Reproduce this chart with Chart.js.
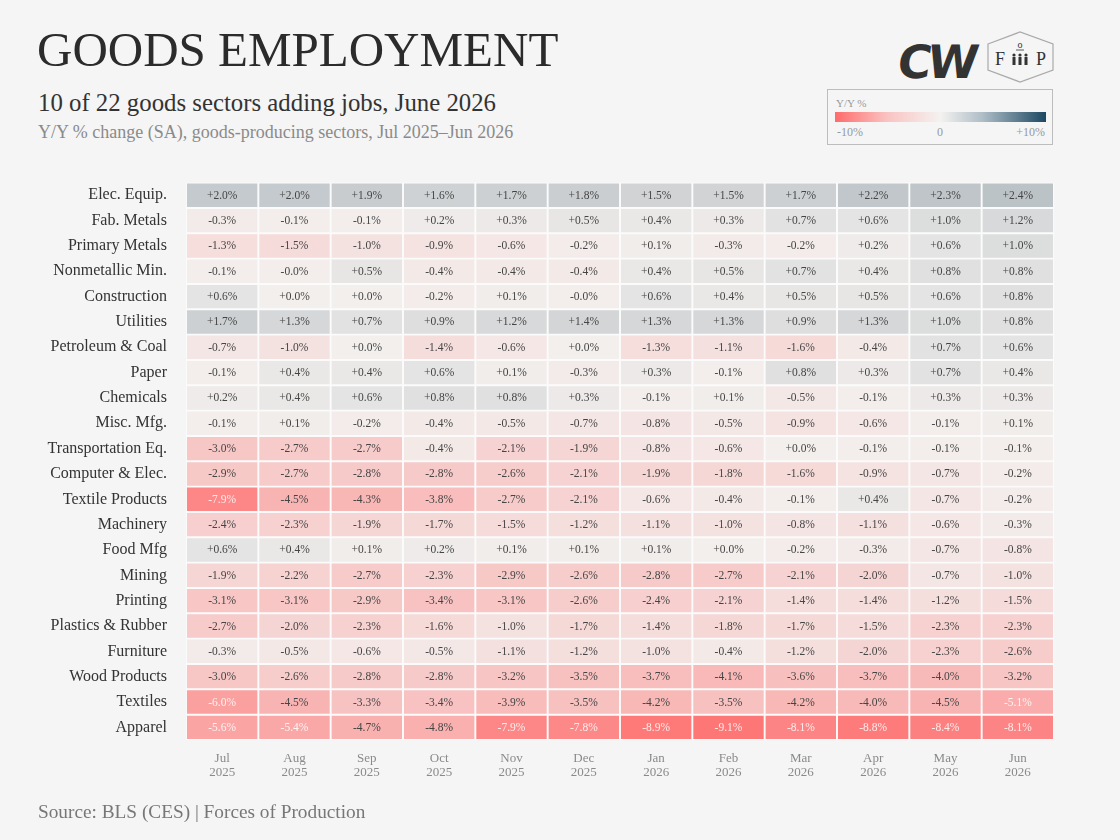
<!DOCTYPE html>
<html>
<head>
<meta charset="utf-8">
<script src="https://cdn.jsdelivr.net/npm/chart.js@4.4.1/dist/chart.umd.min.js"></script>
<style>
  html, body { margin: 0; padding: 0; background: #f5f5f5; }
  body { width: 1120px; height: 840px; position: relative; overflow: hidden; font-family: "Liberation Serif", serif; }
  .abs { position: absolute; white-space: nowrap; }
  #title { left: 37px; top: 22px; font-size: 49px; color: #2b2b2b; line-height: 56px; }
  #subtitle { left: 38px; top: 88px; font-size: 24.8px; color: #333; line-height: 30px; }
  #note { left: 38px; top: 120px; font-size: 18px; color: #8a8a8a; line-height: 24px; }
  #source { left: 38px; top: 799px; font-size: 19.3px; color: #777; line-height: 25px; }
  #legend { left: 827px; top: 89px; width: 224px; height: 54px; border: 1px solid #bdbdbd; background: #f5f5f5; }
  #legend .cap { position: absolute; left: 8px; top: 7px; font-size: 11px; color: #999; }
  #legend .bar { position: absolute; left: 7px; top: 22px; width: 211px; height: 10px;
    background: linear-gradient(to right, #ff6b6b 0%, #f9c4c2 25%, #f4f2f0 50%, #aebdc6 70%, #1c4862 100%); }
  #legend .t { position: absolute; top: 35px; font-size: 12px; color: #999; }
  #wrap { position: absolute; left: 0; top: 154px; width: 1120px; height: 647px; }
</style>
</head>
<body>
<div id="title" class="abs">GOODS EMPLOYMENT</div>
<div id="subtitle" class="abs">10 of 22 goods sectors adding jobs, June 2026</div>
<div id="note" class="abs">Y/Y % change (SA), goods-producing sectors, Jul 2025–Jun 2026</div>

<svg class="abs" style="left:895px;top:28px" width="170" height="60" viewBox="895 28 170 60">
  <g transform="translate(934,78) skewX(-8)">
    <text x="0" y="0" text-anchor="middle" font-family="DejaVu Sans" font-weight="bold" font-size="46" fill="#333" letter-spacing="-4">CW</text>
  </g>
  <polygon points="988,44 1020,32 1053,44 1053,70 1020,82 988,70" fill="none" stroke="#aaa" stroke-width="1.2"/>
  <text x="1000" y="65" font-family="Liberation Serif" font-size="18" fill="#333" text-anchor="middle">F</text>
  <text x="1041" y="65" font-family="Liberation Serif" font-size="18" fill="#333" text-anchor="middle">P</text>
  <text x="1020" y="48" font-family="Liberation Serif" font-size="10" fill="#333" text-anchor="middle">o</text>
  <line x1="1016" y1="50" x2="1024" y2="50" stroke="#333" stroke-width="0.8"/>
  <g fill="#333">
    <circle cx="1014" cy="55" r="1.6"/><rect x="1012.5" y="57" width="3" height="8"/>
    <circle cx="1020" cy="55" r="1.6"/><rect x="1018.5" y="57" width="3" height="8"/>
    <circle cx="1026" cy="55" r="1.6"/><rect x="1024.5" y="57" width="3" height="8"/>
  </g>
</svg>

<div id="legend" class="abs">
  <div class="cap">Y/Y %</div>
  <div class="bar"></div>
  <div class="t" style="left:9px">-10%</div>
  <div class="t" style="left:109px">0</div>
  <div class="t" style="right:7px">+10%</div>
</div>

<div id="wrap"><canvas id="chart"></canvas></div>
<div id="source" class="abs">Source: BLS (CES) | Forces of Production</div>

<script>
// months along the bottom
const monthNames = ['Jul', 'Aug', 'Sep', 'Oct', 'Nov', 'Dec', 'Jan', 'Feb', 'Mar', 'Apr', 'May', 'Jun'];
const monthYears = ['2025', '2025', '2025', '2025', '2025', '2025', '2026', '2026', '2026', '2026', '2026', '2026'];

const sectors = ['Elec. Equip.', 'Fab. Metals', 'Primary Metals', 'Nonmetallic Min.', 'Construction', 'Utilities',
  'Petroleum & Coal', 'Paper', 'Chemicals', 'Misc. Mfg.', 'Transportation Eq.', 'Computer & Elec.',
  'Textile Products', 'Machinery', 'Food Mfg', 'Mining', 'Printing', 'Plastics & Rubber', 'Furniture',
  'Wood Products', 'Textiles', 'Apparel'];

// Y/Y % change, Jul 2025 - Jun 2026 (-0.04 shows as "-0.0%")
const elecEquip      = [2.0, 2.0, 1.9, 1.6, 1.7, 1.8, 1.5, 1.5, 1.7, 2.2, 2.3, 2.4];
const fabMetals      = [-0.3, -0.1, -0.1, 0.2, 0.3, 0.5, 0.4, 0.3, 0.7, 0.6, 1.0, 1.2];
const primaryMetals  = [-1.3, -1.5, -1.0, -0.9, -0.6, -0.2, 0.1, -0.3, -0.2, 0.2, 0.6, 1.0];
const nonmetallic    = [-0.1, -0.04, 0.5, -0.4, -0.4, -0.4, 0.4, 0.5, 0.7, 0.4, 0.8, 0.8];
const construction   = [0.6, 0.0, 0.0, -0.2, 0.1, -0.04, 0.6, 0.4, 0.5, 0.5, 0.6, 0.8];
const utilities      = [1.7, 1.3, 0.7, 0.9, 1.2, 1.4, 1.3, 1.3, 0.9, 1.3, 1.0, 0.8];
const petroleum      = [-0.7, -1.0, 0.0, -1.4, -0.6, 0.0, -1.3, -1.1, -1.6, -0.4, 0.7, 0.6];
const paper          = [-0.1, 0.4, 0.4, 0.6, 0.1, -0.3, 0.3, -0.1, 0.8, 0.3, 0.7, 0.4];
const chemicals      = [0.2, 0.4, 0.6, 0.8, 0.8, 0.3, -0.1, 0.1, -0.5, -0.1, 0.3, 0.3];
const miscMfg        = [-0.1, 0.1, -0.2, -0.4, -0.5, -0.7, -0.8, -0.5, -0.9, -0.6, -0.1, 0.1];
const transportEq    = [-3.0, -2.7, -2.7, -0.4, -2.1, -1.9, -0.8, -0.6, 0.0, -0.1, -0.1, -0.1];
const computerElec   = [-2.9, -2.7, -2.8, -2.8, -2.6, -2.1, -1.9, -1.8, -1.6, -0.9, -0.7, -0.2];
const textileProd    = [-7.9, -4.5, -4.3, -3.8, -2.7, -2.1, -0.6, -0.4, -0.1, 0.4, -0.7, -0.2];
const machinery      = [-2.4, -2.3, -1.9, -1.7, -1.5, -1.2, -1.1, -1.0, -0.8, -1.1, -0.6, -0.3];
const foodMfg        = [0.6, 0.4, 0.1, 0.2, 0.1, 0.1, 0.1, 0.0, -0.2, -0.3, -0.7, -0.8];
const mining         = [-1.9, -2.2, -2.7, -2.3, -2.9, -2.6, -2.8, -2.7, -2.1, -2.0, -0.7, -1.0];
const printing       = [-3.1, -3.1, -2.9, -3.4, -3.1, -2.6, -2.4, -2.1, -1.4, -1.4, -1.2, -1.5];
const plastics       = [-2.7, -2.0, -2.3, -1.6, -1.0, -1.7, -1.4, -1.8, -1.7, -1.5, -2.3, -2.3];
const furniture      = [-0.3, -0.5, -0.6, -0.5, -1.1, -1.2, -1.0, -0.4, -1.2, -2.0, -2.3, -2.6];
const woodProducts   = [-3.0, -2.6, -2.8, -2.8, -3.2, -3.5, -3.7, -4.1, -3.6, -3.7, -4.0, -3.2];
const textiles       = [-6.0, -4.5, -3.3, -3.4, -3.9, -3.5, -4.2, -3.5, -4.2, -4.0, -4.5, -5.1];
const apparel        = [-5.6, -5.4, -4.7, -4.8, -7.9, -7.8, -8.9, -9.1, -8.1, -8.8, -8.4, -8.1];

const rows = [elecEquip, fabMetals, primaryMetals, nonmetallic, construction, utilities, petroleum, paper,
  chemicals, miscMfg, transportEq, computerElec, textileProd, machinery, foodMfg, mining, printing,
  plastics, furniture, woodProducts, textiles, apparel];

// diverging scale, -10 .. +10
const NEG = [255, 107, 107], MID = [243, 239, 237], POS = [15, 55, 80];
function heat(v) {
  const t = Math.min(Math.abs(v) / 10, 1);
  const end = v < 0 ? NEG : POS;
  const c = MID.map((m, k) => Math.round(m + (end[k] - m) * t));
  return `rgb(${c[0]},${c[1]},${c[2]})`;
}
const fmt = v => (v >= 0 ? '+' : '') + v.toFixed(1) + '%';

// one floating-bar dataset per month column
const datasets = monthNames.map((m, i) => ({
  label: m,
  data: rows.map(() => [i, i + 1]),
  backgroundColor: rows.map(r => heat(r[i])),
  borderColor: '#fbfbfb',
  borderWidth: 1.3,
  borderSkipped: false,
  barPercentage: 1,
  categoryPercentage: 1
}));

const cellText = {
  id: 'cellText',
  afterDatasetsDraw(chart) {
    const ctx = chart.ctx;
    ctx.save();
    ctx.font = '11.5px "Liberation Serif"';
    ctx.textAlign = 'center';
    ctx.textBaseline = 'middle';
    chart.data.datasets.forEach((ds, i) => {
      chart.getDatasetMeta(i).data.forEach((bar, j) => {
        const v = rows[j][i];
        const c = bar.getCenterPoint();
        ctx.fillStyle = v <= -5 ? 'rgba(255,255,255,0.85)' : '#444';
        ctx.fillText(fmt(v), c.x, c.y + 0.5);
      });
    });
    ctx.restore();
  }
};

new Chart(document.getElementById('chart'), {
  type: 'bar',
  data: { labels: sectors, datasets },
  options: {
    indexAxis: 'y',
    responsive: true,
    maintainAspectRatio: false,
    animation: false,
    layout: { padding: { left: 0, right: 66, top: 0, bottom: 0 } },
    plugins: { legend: { display: false }, tooltip: { enabled: false } },
    scales: {
      x: {
        type: 'linear', min: 0, max: 12, stacked: false,
        grid: { display: false, drawTicks: false }, border: { display: false },
        afterBuildTicks: s => { s.ticks = monthNames.map((_, i) => ({ value: i + 0.5 })); },
        afterFit: s => { s.height = 61; },
        ticks: {
          autoSkip: false, maxRotation: 0, padding: 12,
          color: '#8a8a8a', font: { family: 'Liberation Serif', size: 13, lineHeight: 1.08 },
          callback: (v, i) => [monthNames[i], monthYears[i]]
        }
      },
      y: {
        stacked: true,
        grid: { display: false, drawTicks: false }, border: { display: false },
        afterFit: s => { s.width = 186; },
        ticks: { padding: 19, color: '#333', font: { family: 'Liberation Serif', size: 16 } }
      }
    }
  },
  plugins: [cellText]
});
</script>
</body>
</html>
